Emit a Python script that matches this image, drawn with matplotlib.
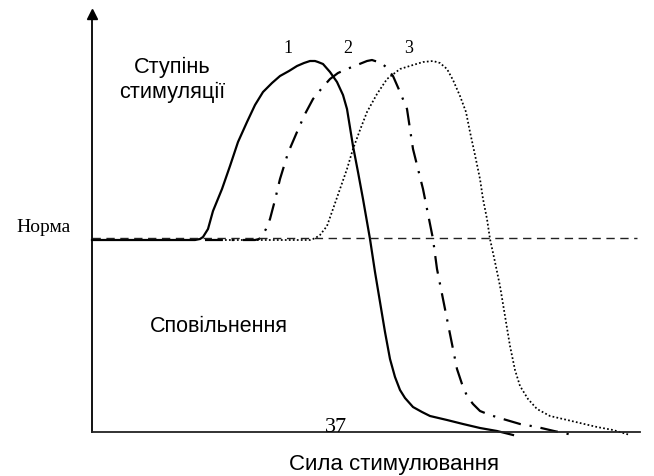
import numpy as np
import matplotlib.pyplot as plt

# curve points: x = stimulus strength, y = degree of stimulation
x1 = [0, 103, 108, 111, 116, 121, 130, 138, 146, 155, 163, 171, 180, 188, 197, 205, 212, 218, 223, 226,
      231, 238, 245, 251, 255, 261, 266, 271, 278, 283, 288, 293, 298, 303, 308, 313, 321, 330, 338, 355,
      371, 388, 405, 421]
y1 = [192, 192, 193, 195, 203, 221, 243, 266, 290, 310, 327, 340, 349, 356, 361, 366, 369, 371, 371, 370,
      368, 360, 350, 337, 323, 286, 260, 233, 193, 160, 130, 100, 73, 55, 42, 34, 25, 20, 16, 12,
      8, 4, 1, -3]

x2 = [113, 163, 167, 170, 174, 178, 183, 188, 196, 205, 213, 221, 230, 238, 246, 255, 265, 275, 280, 283,
      288, 294, 301, 308, 315, 321, 326, 331, 336, 341, 345, 350, 355, 360, 365, 370, 375, 381, 388, 398,
      411, 428, 445, 462, 481]
y2 = [192, 192, 193, 196, 203, 213, 232, 253, 279, 300, 318, 333, 344, 353, 359, 363, 367, 371, 372, 371,
      370, 365, 356, 340, 323, 283, 263, 243, 218, 193, 163, 138, 113, 88, 63, 48, 36, 28, 21, 17,
      13, 8, 5, 1, -3]

x3 = [113, 213, 218, 221, 225, 228, 235, 241, 248, 255, 261, 268, 275, 285, 295, 308, 321, 331, 341, 348,
      355, 361, 368, 374, 378, 383, 388, 391, 395, 398, 403, 408, 413, 418, 423, 428, 436, 445, 458, 471,
      488, 505, 521, 538]
y3 = [192, 192, 192, 193, 195, 197, 206, 223, 243, 263, 283, 302, 320, 338, 353, 363, 367, 370, 371, 369,
      363, 352, 336, 320, 300, 277, 253, 233, 213, 193, 170, 146, 116, 86, 62, 46, 33, 23, 16, 13,
      9, 5, 2, -3]

norm_level = 194
curve_labels = ["1", "2", "3"]
label_x = [196, 256, 317]

fig = plt.figure(figsize=(6.54, 4.77), dpi=100)
ax = fig.add_axes([92 / 654, 44 / 477, 548 / 654, 418 / 477])
ax.set_xlim(0, 548)
ax.set_ylim(0, 418)

ax.plot(x1, y1, color='black', lw=1.6, solid_joinstyle='round', clip_on=False)
ax.plot(x2, y2, color='black', lw=1.6, linestyle=(0, (8, 4, 1, 4)), clip_on=False)
ax.plot(x3, y3, color='black', lw=1.25, linestyle=(0, (1, 1.3)), clip_on=False)

ax.axhline(norm_level, xmin=0, xmax=545 / 548, color='#222222', lw=1.0, linestyle=(0, (6, 4)))

for spine in ['top', 'right']:
    ax.spines[spine].set_visible(False)
ax.spines['left'].set_linewidth(1.3)
ax.spines['bottom'].set_linewidth(1.3)
ax.spines['bottom'].set_color('#222222')
ax.set_xticks([])
ax.set_yticks([])
ax.plot([0], [418], marker='^', color='black', markersize=7, clip_on=False)

serif = ['Liberation Serif', 'DejaVu Serif']
sans = ['Liberation Sans', 'DejaVu Sans']

for lab, lx in zip(curve_labels, label_x):
    ax.text(lx, 380, lab, family=serif, fontsize=13, ha='center', va='baseline')

ax.text(80.5, 360, "Ступінь", family=sans, fontsize=15.7, ha='center', va='baseline')
ax.text(80.5, 335, "стимуляції", family=sans, fontsize=15.7, ha='center', va='baseline')
ax.text(127, 101, "Сповільнення", family=sans, fontsize=15.5, ha='center', va='baseline')
ax.text(-48.5, 201, "Норма", family=serif, fontsize=14, ha='center', va='baseline', clip_on=False)
ax.text(244, 1, "37", family=serif, fontsize=16, ha='center', va='baseline')
ax.text(302, -37, "Сила стимулювання", family=sans, fontsize=16, ha='center', va='baseline',
        clip_on=False)

fig.savefig('out.png', dpi=100)
